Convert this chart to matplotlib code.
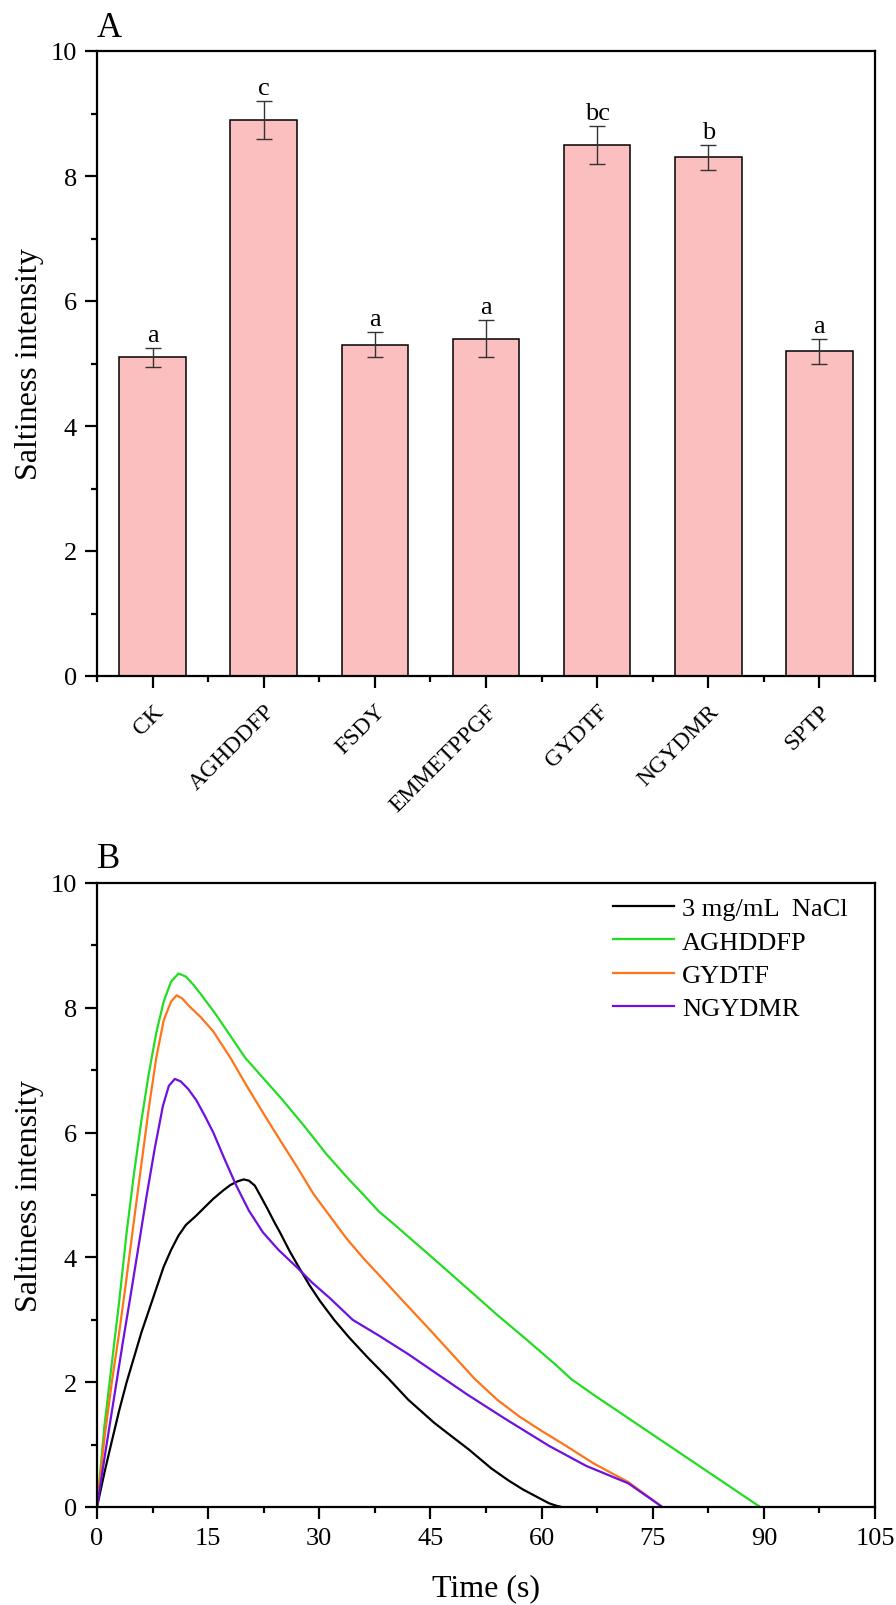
import matplotlib
matplotlib.use("Agg")
import matplotlib.pyplot as plt
from matplotlib.ticker import MultipleLocator, FixedLocator
import numpy as np

plt.rcParams['font.family'] = ['Liberation Serif', 'DejaVu Serif']

# ---- Panel A data ----
categories = ["CK", "AGHDDFP", "FSDY", "EMMETPPGF", "GYDTF", "NGYDMR", "SPTP"]
means = [5.1, 8.9, 5.3, 5.4, 8.5, 8.3, 5.2]
errors = [0.15, 0.3, 0.2, 0.3, 0.3, 0.2, 0.2]
letters = ["a", "c", "a", "a", "bc", "b", "a"]

# ---- Panel B data ----
nacl_t = [0, 1, 1.75, 3, 4, 5, 6, 7, 8, 9, 10, 11, 12, 13.4, 14.5, 15.7, 17, 18, 19, 19.8,
          20.5, 21.3, 22, 23, 24, 24.7, 26, 27.4, 28.7, 30.1, 32, 34, 36.5, 39.4, 42, 45.5,
          48, 50.2, 53.2, 55.6, 57.5, 59.4, 61, 62, 62.7]
nacl_v = [0, 0.55, 0.93, 1.55, 2.0, 2.4, 2.8, 3.15, 3.5, 3.85, 4.12, 4.35, 4.52, 4.67, 4.8,
          4.94, 5.07, 5.16, 5.22, 5.25, 5.23, 5.15, 5.0, 4.78, 4.55, 4.4, 4.1, 3.81, 3.55, 3.3,
          3.0, 2.72, 2.4, 2.05, 1.72, 1.35, 1.12, 0.92, 0.62, 0.42, 0.28, 0.16, 0.06, 0.02, 0]

agh_t = [0, 1, 2, 3, 4, 5, 6, 7, 8, 9, 10, 11, 12, 13, 14, 16, 18, 20, 22, 25, 28, 31, 34,
         36, 38, 40, 43, 46, 50, 54, 58, 62, 64, 67, 70, 75, 80, 85, 89.5]
agh_v = [0, 1.3, 2.3, 3.3, 4.4, 5.35, 6.2, 6.95, 7.6, 8.1, 8.42, 8.55, 8.5, 8.37, 8.22, 7.9,
         7.55, 7.2, 6.93, 6.53, 6.1, 5.65, 5.25, 5.0, 4.74, 4.54, 4.23, 3.92, 3.5, 3.08, 2.68,
         2.27, 2.05, 1.8, 1.56, 1.16, 0.76, 0.36, 0]

gyd_t = [0, 1, 2, 3, 3.8, 5, 6, 7, 8, 9, 10, 10.75, 11.5, 12.5, 14, 15.7, 18, 20.2, 22.5,
         24.7, 27, 29.2, 31.5, 33.7, 36, 38.2, 41, 45, 48, 51, 54, 57, 60, 63.3, 67, 71.7,
         74, 76.3]
gyd_v = [0, 1.1, 2.0, 2.8, 3.5, 4.6, 5.5, 6.4, 7.2, 7.8, 8.1, 8.2, 8.15, 8.02, 7.85, 7.62,
         7.2, 6.75, 6.3, 5.88, 5.45, 5.02, 4.65, 4.3, 3.98, 3.7, 3.34, 2.83, 2.44, 2.05, 1.72,
         1.45, 1.22, 0.98, 0.7, 0.4, 0.2, 0]

ngy_t = [0, 1.2, 2.5, 3.5, 4.45, 5.5, 6.7, 7.8, 8.9, 9.7, 10.5, 11.3, 12.3, 13.4, 14.5, 15.7,
         17.2, 18.8, 20.5, 22.4, 24.5, 26.9, 29, 31.4, 33, 34.5, 38, 42, 46.3, 50, 55, 61, 66,
         71.7, 76.3]
ngy_v = [0, 0.93, 1.9, 2.65, 3.33, 4.1, 4.99, 5.75, 6.43, 6.75, 6.86, 6.82, 6.7, 6.52, 6.28,
         6.0, 5.58, 5.15, 4.75, 4.4, 4.12, 3.85, 3.6, 3.35, 3.17, 3.0, 2.75, 2.45, 2.1, 1.8,
         1.42, 0.98, 0.66, 0.38, 0]

series_labels = ["3 mg/mL  NaCl", "AGHDDFP", "GYDTF", "NGYDMR"]
series_colors = ["#000000", "#22DD22", "#FF7418", "#6E10E0"]

W, H = 896, 1606
fig = plt.figure(figsize=(W / 100, H / 100), dpi=100)

def frac(l, t, r, b):
    return [l / W, 1 - b / H, (r - l) / W, (b - t) / H]

axA = fig.add_axes(frac(97, 52, 875, 677))
axB = fig.add_axes(frac(97, 884, 875, 1508))

spine_lw = 1.6
tick_fs = 19
label_fs = 23

def style_axes(ax):
    for s in ax.spines.values():
        s.set_linewidth(spine_lw)
    ax.tick_params(axis='both', which='major', direction='out', length=8.5, width=spine_lw,
                   labelsize=tick_fs, pad=6)
    ax.tick_params(axis='both', which='minor', direction='out', length=4.5, width=spine_lw)
    ax.tick_params(top=False, right=False, which='both')

# ---- Panel A ----
x = np.arange(len(categories))
axA.bar(x, means, width=0.6, color="#FBBFBF", edgecolor="black", linewidth=1.1, zorder=2)
axA.errorbar(x, means, yerr=errors, fmt='none', ecolor="#333333", elinewidth=1.0,
             capsize=6, capthick=1.0, zorder=3)
for xi, m, e, lab in zip(x, means, errors, letters):
    axA.text(xi, m + e + 0.03, lab, ha='center', va='bottom', fontsize=19)
axA.set_xlim(-0.5, len(categories) - 0.5)
axA.set_ylim(0, 10)
axA.set_xticks(x)
axA.set_xticklabels(categories, rotation=45, ha='right', rotation_mode='anchor')
axA.xaxis.set_minor_locator(FixedLocator(np.arange(-0.5, len(categories), 1.0)))
axA.yaxis.set_major_locator(MultipleLocator(2))
axA.yaxis.set_minor_locator(MultipleLocator(1))
axA.set_ylabel("Saltiness intensity", fontsize=label_fs, labelpad=5)
style_axes(axA)
axA.tick_params(axis='x', which='major', labelsize=17, pad=9)

# ---- Panel B ----
series = [(nacl_t, nacl_v), (agh_t, agh_v), (gyd_t, gyd_v), (ngy_t, ngy_v)]
for (t, v), lab, col in zip(series, series_labels, series_colors):
    axB.plot(t, v, color=col, linewidth=1.6, label=lab, solid_joinstyle='round')
axB.set_xlim(0, 105)
axB.set_ylim(0, 10)
axB.xaxis.set_major_locator(MultipleLocator(15))
axB.xaxis.set_minor_locator(MultipleLocator(7.5))
axB.yaxis.set_major_locator(MultipleLocator(2))
axB.yaxis.set_minor_locator(MultipleLocator(1))
axB.set_xlabel("Time (s)", fontsize=label_fs, labelpad=17)
axB.set_ylabel("Saltiness intensity", fontsize=label_fs, labelpad=5)
style_axes(axB)
leg = axB.legend(loc='upper right', frameon=False, fontsize=19, handlelength=2.3,
                 handletextpad=0.3, labelspacing=0.37, borderaxespad=0.2,
                 bbox_to_anchor=(0.985, 1.003))

fig.text(97 / W, 1 - 37 / H, "A", fontsize=25, ha='left', va='baseline')
fig.text(97 / W, 1 - 868 / H, "B", fontsize=25, ha='left', va='baseline')

fig.savefig("out.png", dpi=100)
